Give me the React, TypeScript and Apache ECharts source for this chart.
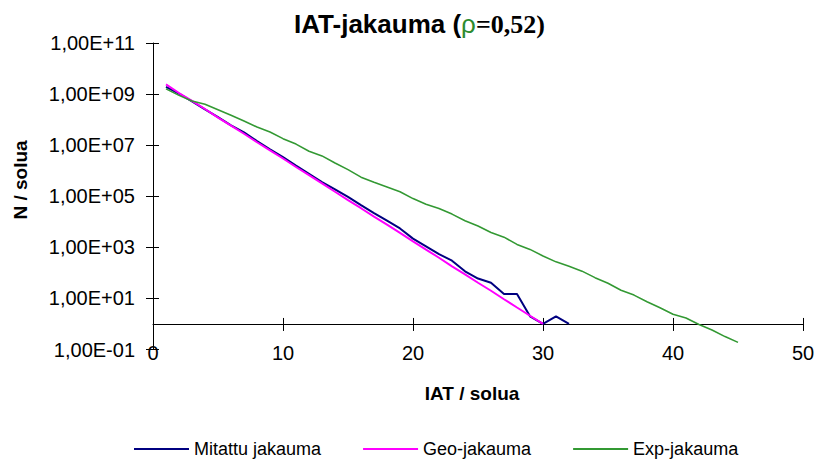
import React, { useEffect, useRef } from "react";
import * as echarts from "echarts";

// IAT values (x) and counts per series
const mitattuX = [1,2,3,4,5,6,7,8,9,10,11,12,13,14,15,16,17,18,19,20,21,22,23,24,25,26,27,28,29,30,31,32];
const mitattu = [1.9e9,1.05e9,5.2e8,2.5e8,1.26e8,6.0e7,3.2e7,1.45e7,6.9e6,3.4e6,1.6e6,7.6e5,3.6e5,1.86e5,9.5e4,4.5e4,2.2e4,1.1e4,5.5e3,2.2e3,1.1e3,540,300,115,60,41,15,15,2,1,2,1];

const geoX = [1,2,3,4,5,6,7,8,9,10,11,12,13,14,15,16,17,18,19,20,21,22,23,24,25,26,27,28,29,30];
const geo = [2.4e9,1.1e9,5.4e8,2.6e8,1.2e8,5.8e7,2.8e7,1.3e7,6.2e6,3.0e6,1.4e6,6.7e5,3.2e5,1.5e5,7.1e4,3.4e4,1.6e4,7.7e3,3.7e3,1.7e3,820,390,180,87,41,20,9.3,4.4,2.1,1];

const expX = [1,2,3,4,5,6,7,8,9,10,11,12,13,14,15,16,17,18,19,20,21,22,23,24,25,26,27,28,29,30,31,32,33,34,35,36,37,38,39,40,41,42,43,44,45];
const expo = [1.6e9,8.9e8,5.4e8,4.0e8,2.45e8,1.48e8,8.9e7,5.1e7,3.3e7,1.8e7,1.1e7,5.8e6,3.8e6,2.0e6,1.1e6,5.6e5,3.5e5,2.3e5,1.5e5,8.1e4,4.9e4,3.3e4,2.0e4,1.1e4,6.8e3,3.8e3,2.5e3,1.3e3,830,460,270,180,117,65,39,21,13.5,7.4,4.3,2.4,1.7,0.95,0.58,0.32,0.19];

const seriesNames = ["Mitattu jakauma", "Geo-jakauma", "Exp-jakauma"];
const seriesColors = ["#000080", "#ff00ff", "#339933"];
const xTicks = [0, 10, 20, 30, 40, 50];
// decade exponents labelled on the y axis
const yExponents = [-1, 1, 3, 5, 7, 9, 11];

const FONT = "'Liberation Sans', Arial, sans-serif";

function fmtExp(e: number): string {
  const sign = e < 0 ? "-" : "+";
  return "1,00E" + sign + String(Math.abs(e)).padStart(2, "0");
}

function toLog(xs: number[], vs: number[]) {
  return vs.map((v, i) => [xs[i], Math.log10(v)]);
}

export default function App() {
  const ref = useRef<HTMLDivElement>(null);
  useEffect(() => {
    document.body.style.margin = "0";
    if (!ref.current) return;
    const chart = echarts.init(ref.current, null, { renderer: "svg" });
    const yMinExp = yExponents[0];
    const yMaxExp = yExponents[yExponents.length - 1];
    const tickStep = yExponents[1] - yExponents[0];
    chart.setOption({
      animation: false,
      backgroundColor: "#fff",
      title: {
        left: 289,
        top: 6,
        text: "{a|IAT-jakauma (}{b|ρ}{c|=0,52)}",
        textStyle: {
          rich: {
            a: { fontFamily: FONT, fontWeight: "bold", fontSize: 26, color: "#000" },
            b: { fontFamily: FONT, fontWeight: "normal", fontSize: 26, color: "#2e8b2e" },
            c: { fontFamily: "'Liberation Serif', 'Times New Roman', serif", fontWeight: "bold", fontSize: 26, color: "#000" },
          },
        },
      },
      legend: {
        left: 134,
        top: 440,
        padding: 0,
        itemWidth: 55,
        itemHeight: 2,
        itemGap: 42,
        icon: "rect",
        textStyle: { fontFamily: FONT, fontSize: 18, color: "#000" },
        data: seriesNames.map((n, i) => ({ name: n, icon: "rect", itemStyle: { color: seriesColors[i] } })),
      },
      grid: {
        left: 153,
        right: 18,
        top: 43,
        bottom: 113.5,
        containLabel: false,
        outerBoundsMode: "none",
      },
      xAxis: [
        {
          type: "value",
          min: xTicks[0],
          max: xTicks[xTicks.length - 1],
          interval: xTicks[1] - xTicks[0],
          position: "bottom",
          splitLine: { show: false },
          axisLine: { show: true, onZero: true, onZeroAxisIndex: 1, lineStyle: { color: "#000", width: 1 } },
          axisTick: { show: true, inside: false, length: 7, lineStyle: { color: "#000" } },
          axisLabel: { show: true, margin: -7, fontFamily: FONT, fontSize: 20, color: "#000" },
        },
        {
          type: "value",
          min: xTicks[0],
          max: xTicks[xTicks.length - 1],
          interval: xTicks[1] - xTicks[0],
          position: "bottom",
          splitLine: { show: false },
          axisLine: { show: false, onZero: true, onZeroAxisIndex: 1 },
          axisTick: { show: true, inside: true, length: 6, lineStyle: { color: "#000" } },
          axisLabel: { show: false },
        },
      ],
      yAxis: [
        {
          // label axis: value v corresponds to exponent v + yMinExp
          type: "value",
          position: "left",
          min: 0,
          max: yMaxExp - yMinExp,
          interval: tickStep,
          splitLine: { show: false },
          axisLine: { show: true, onZero: true, lineStyle: { color: "#000", width: 1 } },
          axisTick: { show: true, inside: false, length: 7, lineStyle: { color: "#000" } },
          axisLabel: {
            show: true,
            margin: 18,
            fontFamily: FONT,
            fontSize: 20,
            color: "#000",
            formatter: (v: number) => fmtExp(v + yMinExp),
          },
        },
        {
          // data axis: log10 of the counts
          type: "value",
          position: "left",
          min: yMinExp,
          max: yMaxExp,
          show: false,
          splitLine: { show: false },
        },
        {
          type: "value",
          position: "left",
          min: 0,
          max: yMaxExp - yMinExp,
          interval: tickStep,
          axisLine: { show: false },
          splitLine: { show: false },
          axisTick: { show: true, inside: true, length: 6, lineStyle: { color: "#000" } },
          axisLabel: { show: false },
        },
      ],
      graphic: [
        {
          type: "text",
          x: 472,
          y: 393,
          style: {
            text: "IAT / solua",
            fontFamily: FONT,
            fontWeight: "bold",
            fontSize: 19,
            fill: "#000",
            align: "center",
            verticalAlign: "middle",
          },
        },
        {
          type: "text",
          x: 20,
          y: 180,
          rotation: Math.PI / 2,
          style: {
            text: "N / solua",
            fontFamily: FONT,
            fontWeight: "bold",
            fontSize: 19,
            fill: "#000",
            align: "center",
            verticalAlign: "middle",
          },
        },
      ],
      series: seriesNames.map((name, i) => ({
        name,
        type: "line",
        xAxisIndex: 0,
        yAxisIndex: 1,
        data: i === 0 ? toLog(mitattuX, mitattu) : i === 1 ? toLog(geoX, geo) : toLog(expX, expo),
        symbol: "none",
        lineStyle: { color: seriesColors[i], width: i === 2 ? 1.6 : 2 },
        itemStyle: { color: seriesColors[i] },
      })),
    });
    return () => chart.dispose();
  }, []);
  return <div ref={ref} style={{ width: 821, height: 463, position: "fixed", left: 0, top: 0 }} />;
}
